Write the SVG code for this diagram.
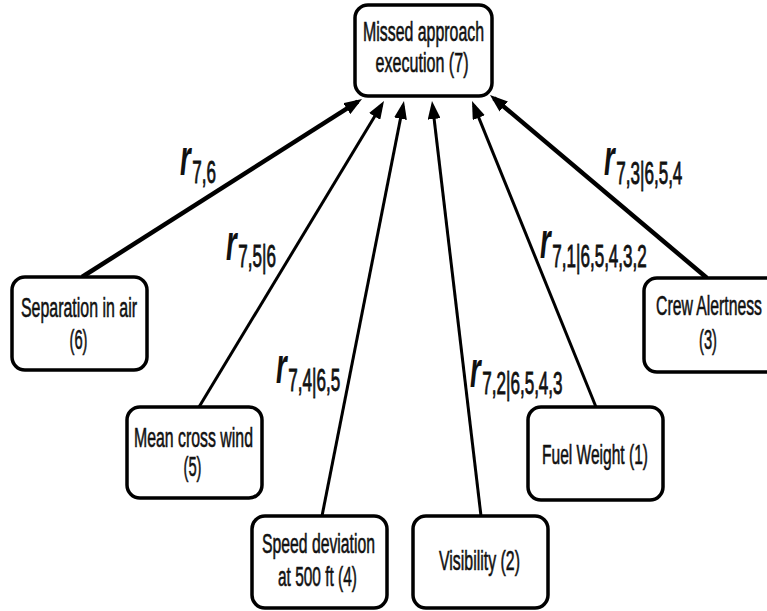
<svg xmlns="http://www.w3.org/2000/svg" width="767" height="611" viewBox="0 0 767 611">
  <style>
    .box { fill: #ffffff; stroke: #000000; stroke-width: 3.5; }
    .lbl { font-family: "Liberation Sans", Arial, sans-serif; font-size: 27px; fill: #111111; stroke: #111111; stroke-width: 0.6; text-anchor: middle; }
    .edge { fill: none; stroke: #000000; stroke-width: 3; marker-end: url(#head); }
    .heavy { stroke-width: 4.5; }
    .corr { font-family: "Liberation Sans", Arial, sans-serif; fill: #111111; }
    .r { font-size: 50px; font-weight: bold; font-style: italic; }
    .sub { font-size: 31px; stroke: #111111; stroke-width: 0.9; }
  </style>
  <defs>
    <marker id="head" viewBox="0 0 18 13" refX="13" refY="6.5" markerWidth="18" markerHeight="13" markerUnits="userSpaceOnUse" orient="auto">
      <path d="M0,0 L18,6.5 L0,13 z" fill="#000000"/>
    </marker>
  </defs>

  <!-- influence arcs into the missed-approach node -->
  <g id="connectors">
    <line class="edge heavy" x1="82" y1="277" x2="357.8" y2="101.7"/>
    <line class="edge" x1="199" y1="407" x2="381.4" y2="105.3"/>
    <line class="edge" x1="322" y1="516" x2="403.0" y2="105.9"/>
    <line class="edge" x1="481" y1="516" x2="432.6" y2="106.0"/>
    <line class="edge" x1="596" y1="407" x2="473.9" y2="105.6"/>
    <line class="edge heavy" x1="707" y1="278" x2="493.8" y2="98.2"/>
  </g>

  <!-- conditional rank correlation labels, set in a condensed face -->
  <g id="edge-labels">
    <text class="corr" transform="translate(180,175) scale(0.55,1)"><tspan class="r">r</tspan><tspan class="sub" dx="3" dy="8">7,6</tspan></text>
    <text class="corr" transform="translate(226,260) scale(0.55,1)"><tspan class="r">r</tspan><tspan class="sub" dx="3" dy="7">7,5|6</tspan></text>
    <text class="corr" transform="translate(276,383) scale(0.55,1)"><tspan class="r">r</tspan><tspan class="sub" dx="3" dy="8">7,4|6,5</tspan></text>
    <text class="corr" transform="translate(470,387) scale(0.55,1)"><tspan class="r">r</tspan><tspan class="sub" dx="3" dy="7">7,2|6,5,4,3</tspan></text>
    <text class="corr" transform="translate(540,258) scale(0.55,1)"><tspan class="r">r</tspan><tspan class="sub" dx="3" dy="9">7,1|6,5,4,3,2</tspan></text>
    <text class="corr" transform="translate(604,175) scale(0.55,1)"><tspan class="r">r</tspan><tspan class="sub" dx="3" dy="9">7,3|6,5,4</tspan></text>
  </g>

  <g id="node-7">
    <rect class="box" x="355" y="5" width="137" height="91" rx="13"/>
    <text class="lbl" x="423.5" y="41" textLength="121" lengthAdjust="spacingAndGlyphs">Missed approach</text>
    <text class="lbl" x="422" y="72" textLength="93" lengthAdjust="spacingAndGlyphs">execution (7)</text>
  </g>

  <g id="node-6">
    <rect class="box" x="12" y="277" width="135" height="93" rx="13"/>
    <text class="lbl" x="79" y="317" textLength="116" lengthAdjust="spacingAndGlyphs">Separation in air</text>
    <text class="lbl" x="78.5" y="349" textLength="18" lengthAdjust="spacingAndGlyphs">(6)</text>
  </g>

  <g id="node-5">
    <rect class="box" x="127" y="407" width="135" height="91" rx="13"/>
    <text class="lbl" x="193.5" y="447" textLength="119" lengthAdjust="spacingAndGlyphs">Mean cross wind</text>
    <text class="lbl" x="192.5" y="476" textLength="18" lengthAdjust="spacingAndGlyphs">(5)</text>
  </g>

  <g id="node-4">
    <rect class="box" x="252" y="516" width="135" height="92" rx="13"/>
    <text class="lbl" x="318.5" y="553" textLength="113" lengthAdjust="spacingAndGlyphs">Speed deviation</text>
    <text class="lbl" x="317.5" y="586" textLength="79" lengthAdjust="spacingAndGlyphs">at 500 ft (4)</text>
  </g>

  <g id="node-2">
    <rect class="box" x="413" y="516" width="135" height="92" rx="13"/>
    <text class="lbl" x="479.5" y="570" textLength="81" lengthAdjust="spacingAndGlyphs">Visibility (2)</text>
  </g>

  <g id="node-1">
    <rect class="box" x="528" y="407" width="135" height="93" rx="13"/>
    <text class="lbl" x="595" y="464" textLength="106" lengthAdjust="spacingAndGlyphs">Fuel Weight (1)</text>
  </g>

  <g id="node-3">
    <rect class="box" x="644" y="278" width="140" height="94" rx="13"/>
    <text class="lbl" x="709" y="315" textLength="106" lengthAdjust="spacingAndGlyphs">Crew Alertness</text>
    <text class="lbl" x="708" y="349" textLength="18" lengthAdjust="spacingAndGlyphs">(3)</text>
  </g>
</svg>
